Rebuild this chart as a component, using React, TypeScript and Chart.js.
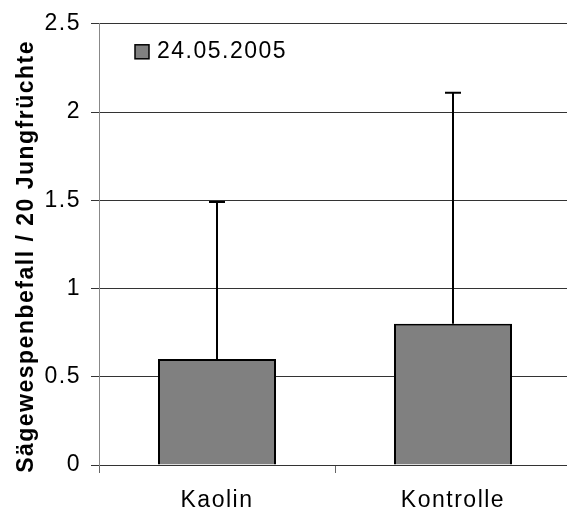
import React, { useEffect, useRef } from 'react';
import { Chart, registerables } from 'chart.js';

Chart.register(...registerables);

const categories = ['Kaolin', 'Kontrolle'];
const seriesLabel = '24.05.2005';
const meanValues = [0.6, 0.8];
const errorPlus = [0.89, 1.31];
const yMin = 0;
const yMax = 2.5;
const yStep = 0.5;
const yTitle = 'Sägewespenbefall / 20 Jungfrüchte';

const FONT = '"Liberation Sans", Arial, sans-serif';
const SPACING = '1.5px';

const spacingPlugin = {
  id: 'letterSpacing',
  beforeDraw(chart: any) {
    chart.ctx.letterSpacing = SPACING;
  },
};

const errorBarPlugin = {
  id: 'errorBars',
  afterDatasetsDraw(chart: any) {
    const ctx = chart.ctx;
    const meta = chart.getDatasetMeta(0);
    const yScale = chart.scales.y;
    ctx.save();
    ctx.strokeStyle = '#000';
    ctx.lineWidth = 2;
    meta.data.forEach((bar: any, i: number) => {
      const x = Math.round(bar.x);
      const base = yScale.getPixelForValue(meanValues[i]);
      const top = yScale.getPixelForValue(meanValues[i] + errorPlus[i]);
      ctx.beginPath();
      ctx.moveTo(x, base);
      ctx.lineTo(x, top);
      ctx.moveTo(x - 8, top);
      ctx.lineTo(x + 8, top);
      ctx.stroke();
    });
    ctx.restore();
  },
};

const insideLegendPlugin = {
  id: 'insideLegend',
  afterDraw(chart: any) {
    const ctx = chart.ctx;
    const area = chart.chartArea;
    const ds = chart.data.datasets[0];
    const sx = area.left + 36;
    const sy = area.top + 21;
    ctx.save();
    ctx.letterSpacing = SPACING;
    ctx.fillStyle = ds.backgroundColor;
    ctx.fillRect(sx, sy, 14, 14);
    ctx.strokeStyle = '#000';
    ctx.lineWidth = 1.5;
    ctx.strokeRect(sx, sy, 14, 14);
    ctx.fillStyle = '#000';
    ctx.font = `23px ${FONT}`;
    ctx.textBaseline = 'alphabetic';
    ctx.textAlign = 'left';
    ctx.fillText(ds.label, sx + 22, sy + 13);
    ctx.restore();
  },
};

const yTitlePlugin = {
  id: 'yTitle',
  afterDraw(chart: any) {
    const ctx = chart.ctx;
    const area = chart.chartArea;
    ctx.save();
    ctx.letterSpacing = SPACING;
    ctx.translate(33, (area.top + area.bottom) / 2 + 12);
    ctx.rotate(-Math.PI / 2);
    ctx.fillStyle = '#000';
    ctx.font = `bold 23px ${FONT}`;
    ctx.textAlign = 'center';
    ctx.textBaseline = 'alphabetic';
    ctx.fillText(yTitle, 0, 0);
    ctx.restore();
  },
};

export default function App() {
  const canvasRef = useRef<HTMLCanvasElement | null>(null);

  useEffect(() => {
    if (!canvasRef.current) return;
    const chart = new Chart(canvasRef.current, {
      type: 'bar',
      data: {
        labels: categories,
        datasets: [
          {
            label: seriesLabel,
            data: meanValues,
            backgroundColor: '#808080',
            borderColor: '#000',
            borderWidth: 2,
            barPercentage: 0.5,
            categoryPercentage: 1,
          },
        ],
      },
      options: {
        responsive: false,
        animation: false,
        layout: { padding: { top: 21, right: 9, bottom: 0, left: 0 } },
        plugins: {
          legend: { display: false },
          tooltip: { enabled: false },
        },
        scales: {
          x: {
            offset: true,
            grid: {
              offset: true,
              drawOnChartArea: false,
              drawTicks: true,
              tickLength: 8,
              color: '#666',
            },
            border: { display: true, color: '#333', width: 1 },
            ticks: {
              color: '#000',
              font: { family: FONT, size: 23 },
              padding: 14,
            },
            afterFit(scale: any) {
              scale.height = 50;
            },
          },
          y: {
            min: yMin,
            max: yMax,
            ticks: {
              stepSize: yStep,
              color: '#000',
              font: { family: FONT, size: 23 },
              padding: 10,
              callback: (v: any) => String(v),
            },
            grid: {
              color: '#333',
              lineWidth: 1,
              drawTicks: true,
              tickLength: 8,
            },
            border: { display: true, color: '#888', width: 1 },
            title: { display: false },
            afterFit(scale: any) {
              scale.width = 99;
            },
          },
        },
      },
      plugins: [spacingPlugin, errorBarPlugin, insideLegendPlugin, yTitlePlugin],
    } as any);
    return () => chart.destroy();
  }, []);

  return (
    <div style={{ position: 'fixed', left: 0, top: 0, width: 580, height: 515, background: '#fff' }}>
      <canvas ref={canvasRef} width={580} height={515} style={{ width: 580, height: 515, display: 'block' }} />
    </div>
  );
}
